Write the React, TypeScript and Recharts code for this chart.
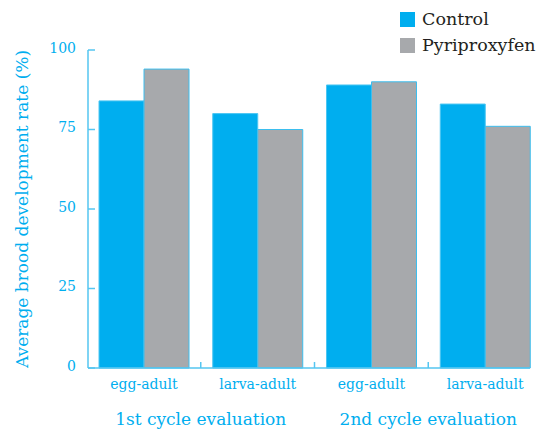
import { Bar, BarChart, Legend, XAxis, YAxis, Label } from "recharts";

const categories = ["egg-adult", "larva-adult", "egg-adult", "larva-adult"];
const groups = ["1st cycle evaluation", "", "2nd cycle evaluation", ""];
const control = [84, 80, 89, 83];
const pyriproxyfen = [94, 75, 90, 76];
const yTicks = [0, 25, 50, 75, 100];

const data = categories.map((c, i) => ({
  name: c,
  group: groups[i],
  control: control[i],
  pyriproxyfen: pyriproxyfen[i],
}));

const CYAN = "#00AEEF";
const GRAY = "#A7A9AC";
const AXIS = "#55C6F1";
const FONT = "'DejaVu Serif', serif";

// layout
const PLOT_LEFT = 87;
const PLOT_RIGHT = 542;
const BAND = (PLOT_RIGHT - PLOT_LEFT) / categories.length;

function XTick(props: any) {
  const { x, y, payload, index } = props;
  return (
    <g>
      <text x={x} y={y + 21} textAnchor="middle" fill={CYAN} fontSize={14} fontFamily={FONT}>
        {payload.value}
      </text>
      {index < categories.length - 1 && (
        <line x1={x + BAND / 2} x2={x + BAND / 2} y1={y} y2={y - 6} stroke={AXIS} strokeWidth={1.5} />
      )}
      {groups[index] && (
        <text x={x + BAND / 2} y={y + 57} textAnchor="middle" fill={CYAN} fontSize={17} fontFamily={FONT}>
          {groups[index]}
        </text>
      )}
    </g>
  );
}

function YTitle(props: any) {
  const { viewBox } = props;
  const cy = viewBox.y + viewBox.height / 2;
  return (
    <text
      transform={`translate(22, ${cy}) rotate(-90)`}
      textAnchor="middle"
      dominantBaseline="central"
      fill={CYAN}
      fontSize={17}
      fontFamily={FONT}
    >
      Average brood development rate (%)
    </text>
  );
}

function LegendBox(props: any) {
  const { payload } = props;
  return (
    <div style={{ fontFamily: FONT, fontSize: 17.5, color: "#231F20" }}>
      {payload.map((p: any) => (
        <div key={p.value} style={{ display: "flex", alignItems: "center", height: 26 }}>
          <span style={{ width: 15, height: 15, background: p.color, marginRight: 7, display: "inline-block" }} />
          <span>{p.value}</span>
        </div>
      ))}
    </div>
  );
}

export default function App() {
  return (
    <div style={{ position: "absolute", left: 0, top: 0 }}>
      <BarChart
        width={539}
        height={430}
        data={data}
        margin={{ top: 50, right: 9, bottom: 0, left: 0 }}
        barGap={0}
        barCategoryGap={12}
      >
        <XAxis
          dataKey="name"
          height={62}
          tickSize={0}
          tickLine={false}
          tickMargin={0}
          axisLine={{ stroke: AXIS, strokeWidth: 1.5 }}
          padding={{ left: PLOT_LEFT - 88, right: 530 - PLOT_RIGHT }}
          tick={<XTick />}
          interval={0}
        />
        <YAxis
          width={88}
          domain={[0, 100]}
          ticks={yTicks}
          tickSize={-7}
          tickMargin={19}
          axisLine={{ stroke: AXIS, strokeWidth: 1.5 }}
          tickLine={{ stroke: AXIS, strokeWidth: 1.5 }}
          tick={{ fill: CYAN, fontSize: 14, fontFamily: FONT, dy: -2 }}
        >
          <Label content={<YTitle />} />
        </YAxis>
        <Legend
          layout="vertical"
          verticalAlign="middle"
          align="center"
          content={<LegendBox />}
          wrapperStyle={{ position: "absolute", top: 6, left: 400, width: 139 }}
        />
        <Bar dataKey="control" name="Control" fill={CYAN} stroke="#4CC6F2" strokeWidth={1} isAnimationActive={false} />
        <Bar dataKey="pyriproxyfen" name="Pyriproxyfen" fill={GRAY} stroke="#3DBEEE" strokeWidth={1} isAnimationActive={false} />
      </BarChart>
    </div>
  );
}
